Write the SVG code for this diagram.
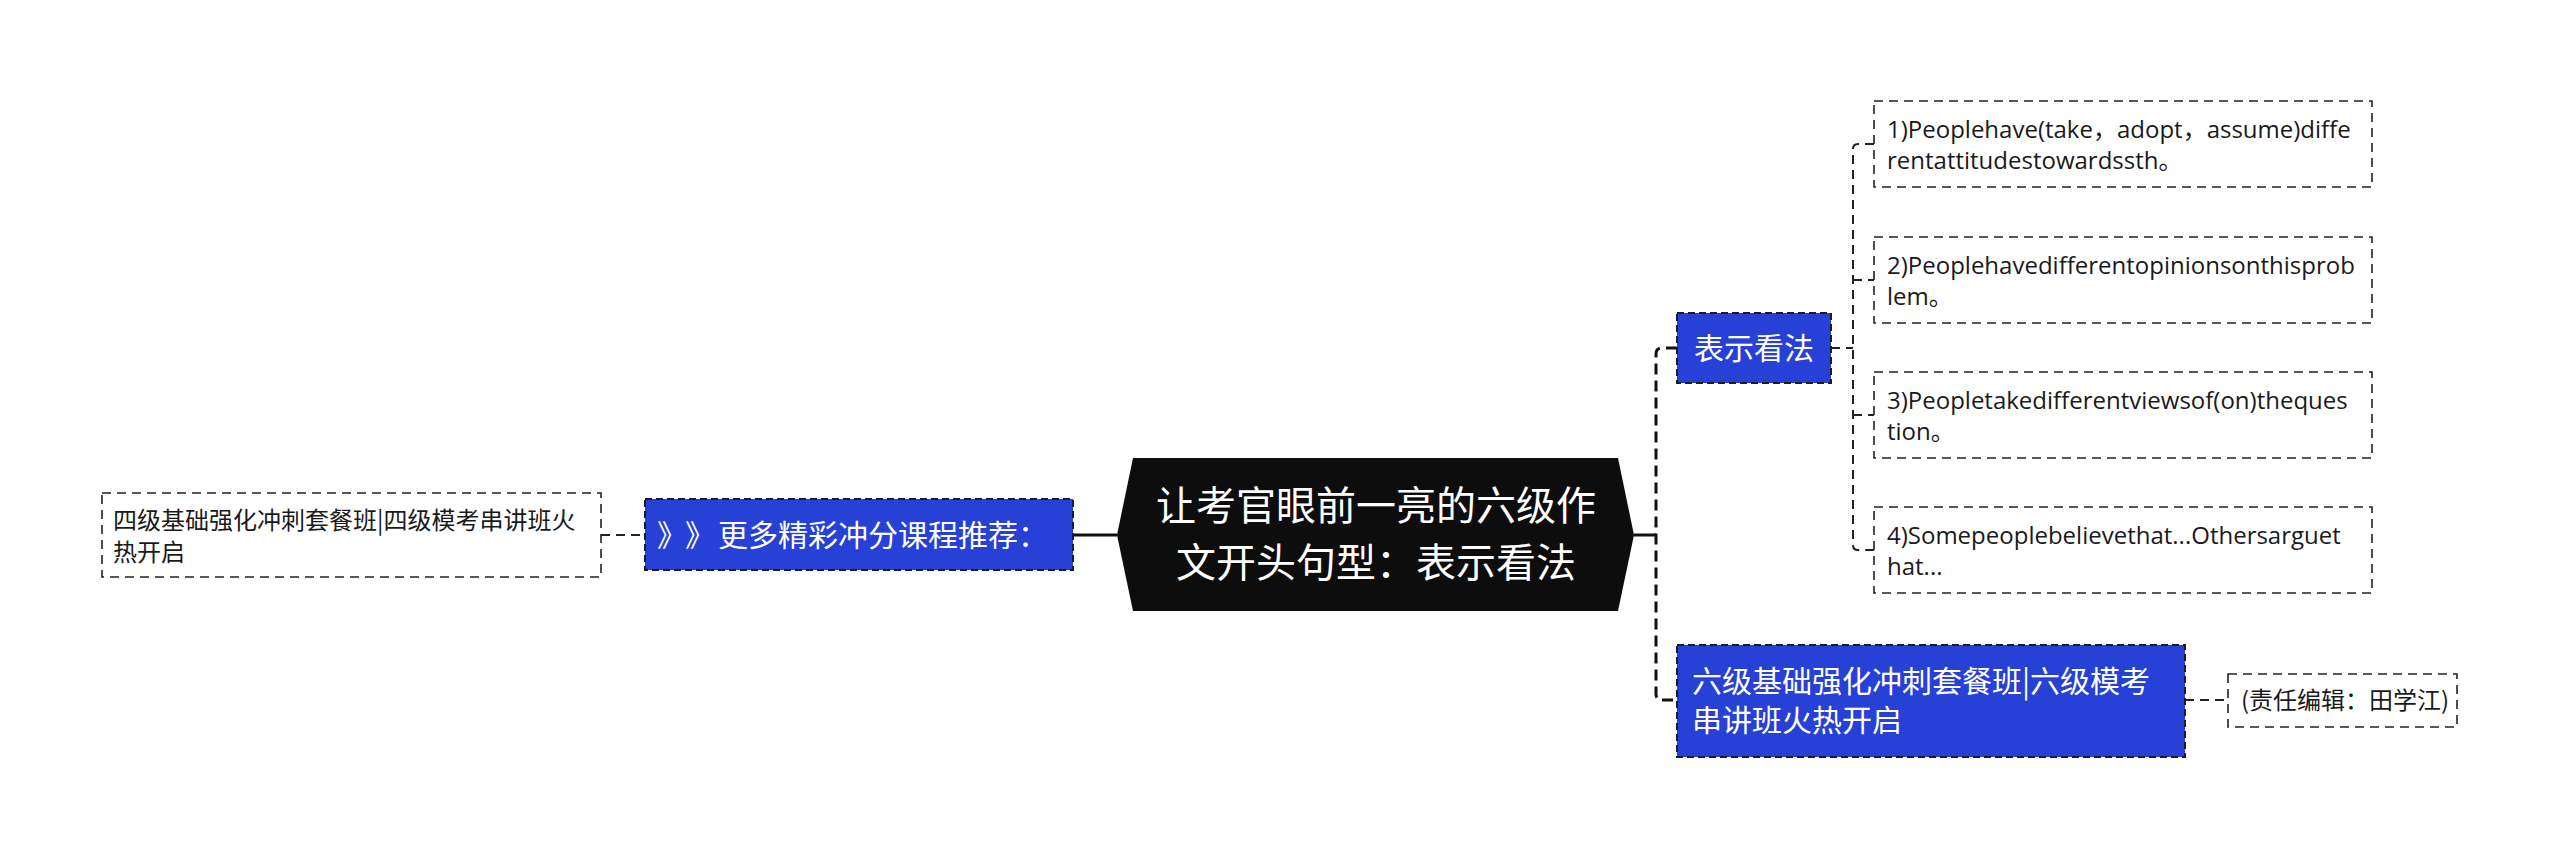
<svg xmlns="http://www.w3.org/2000/svg" width="2560" height="859" viewBox="0 0 2560 859">
<style>
.cjk{font-family:"Noto Sans CJK SC","Noto Sans",sans-serif}
.lat{font-family:"Open Sans","Noto Sans CJK SC",sans-serif}
.wt{fill:#ffffff}
.bk{fill:#1a1a1a}
.blue{fill:#2740d6;stroke:#1a1a2a;stroke-width:2;stroke-dasharray:7 4}
.plain{fill:#ffffff;stroke:#222;stroke-width:1.6;stroke-dasharray:9 6}
.solid{fill:none;stroke:#111;stroke-width:3}
.dash1{fill:none;stroke:#111;stroke-width:3;stroke-dasharray:11 6}
.dash2{fill:none;stroke:#222;stroke-width:2;stroke-dasharray:9 6}
</style>
<rect width="2560" height="859" fill="#ffffff"/>
<g id="connectors">
<path class="dash2" d="M601 535 H645"/>
<path class="solid" d="M1073 535 H1117"/>
<path class="solid" d="M1634 535 H1656"/>
<path class="dash1" d="M1677 348 H1662 Q1656 348 1656 354 V694 Q1656 700 1662 700 H1677"/>
<path class="dash2" d="M1831 348 H1853"/>
<path class="dash2" d="M1874 144 H1858 Q1853 144 1853 149 V545 Q1853 550 1858 550 H1874"/>
<path class="dash2" d="M1853 280 H1874"/>
<path class="dash2" d="M1853 415 H1874"/>
<path class="dash2" d="M2185 700 H2228"/>
</g>
<g id="center">
<polygon points="1117,535 1133,458 1618,458 1634,535 1618,611 1133,611" fill="#0d0d0d"/>
<text class="cjk wt" font-size="40" text-anchor="middle" x="1376" y="520">让考官眼前一亮的六级作</text>
<text class="cjk wt" font-size="40" text-anchor="middle" x="1376" y="577">文开头句型：表示看法</text>
</g>
<g id="more">
<rect class="blue" x="645" y="499" width="428" height="71"/>
<text class="cjk wt" font-size="30" y="546"><tspan x="657">》</tspan><tspan x="685">》</tspan><tspan x="718">更多精彩冲分课程推荐：</tspan></text>
</g>
<g id="siji">
<rect class="plain" x="102" y="493" width="499" height="84"/>
<text class="cjk bk" font-size="24" x="113" y="529">四级基础强化冲刺套餐班|四级模考串讲班火</text>
<text class="cjk bk" font-size="24" x="113" y="561">热开启</text>
</g>
<g id="biaoshi">
<rect class="blue" x="1677" y="313" width="154" height="70"/>
<text class="cjk wt" font-size="30" text-anchor="middle" x="1754" y="359">表示看法</text>
</g>
<g id="s1">
<rect class="plain" x="1874" y="101" width="498" height="86"/>
<text class="lat bk" font-size="24" x="1887" y="138">1)Peoplehave(take，adopt，assume)diffe</text>
<text class="lat bk" font-size="24" x="1887" y="169">rentattitudestowardssth。</text>
</g>
<g id="s2">
<rect class="plain" x="1874" y="237" width="498" height="86"/>
<text class="lat bk" font-size="24" x="1887" y="274">2)Peoplehavedifferentopinionsonthisprob</text>
<text class="lat bk" font-size="24" x="1887" y="305">lem。</text>
</g>
<g id="s3">
<rect class="plain" x="1874" y="372" width="498" height="86"/>
<text class="lat bk" font-size="24" x="1887" y="409">3)Peopletakedifferentviewsof(on)theques</text>
<text class="lat bk" font-size="24" x="1887" y="440">tion。</text>
</g>
<g id="s4">
<rect class="plain" x="1874" y="507" width="498" height="86"/>
<text class="lat bk" font-size="24" x="1887" y="544">4)Somepeoplebelievethat...Othersarguet</text>
<text class="lat bk" font-size="24" x="1887" y="575">hat...</text>
</g>
<g id="liuji">
<rect class="blue" x="1677" y="645" width="508" height="112"/>
<text class="cjk wt" font-size="30" x="1692" y="692">六级基础强化冲刺套餐班|六级模考</text>
<text class="cjk wt" font-size="30" x="1692" y="731">串讲班火热开启</text>
</g>
<g id="editor">
<rect class="plain" x="2228" y="674" width="229" height="53"/>
<text class="cjk bk" font-size="24" x="2241" y="709">(责任编辑：田学江)</text>
</g>
</svg>
